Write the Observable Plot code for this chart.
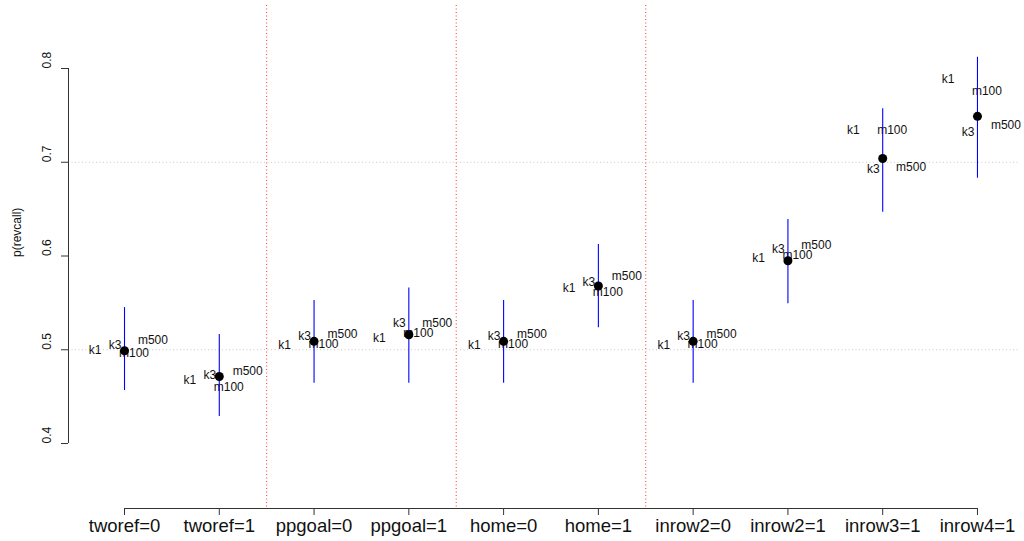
<!DOCTYPE html>
<html>
<head>
<meta charset="utf-8">
<script src="https://cdn.jsdelivr.net/npm/d3@7"></script>
<script src="https://cdn.jsdelivr.net/npm/@observablehq/plot@0.6"></script>
<style>
  html, body { margin: 0; padding: 0; background: white; }
</style>
</head>
<body>
<div id="chart"></div>
<script>
const categories = ["tworef=0","tworef=1","ppgoal=0","ppgoal=1","home=0","home=1","inrow2=0","inrow2=1","inrow3=1","inrow4=1"];
const estimate = [0.499, 0.4715, 0.509, 0.516, 0.509, 0.568, 0.509, 0.595, 0.704, 0.749];
const lower    = [0.4565, 0.4288, 0.4643, 0.4643, 0.4643, 0.5234, 0.4643, 0.549, 0.6467, 0.683];
const upper    = [0.545, 0.5163, 0.5525, 0.566, 0.5525, 0.6123, 0.5525, 0.639, 0.757, 0.812];
const k1   = [0.500, 0.468, 0.5053, 0.5124, 0.5053, 0.566, 0.5053, 0.5977, 0.7346, 0.7883];
const k3   = [0.5053, 0.4725, 0.514, 0.5283, 0.514, 0.572, 0.514, 0.6077, 0.6923, 0.732];
const m100 = [0.4963, 0.460, 0.5056, 0.5177, 0.5056, 0.5614, 0.5056, 0.6005, 0.7346, 0.7755];
const m500 = [0.5099, 0.477, 0.517, 0.5283, 0.517, 0.578, 0.517, 0.6112, 0.6947, 0.7392];
const modelNames = ["k1", "k3", "m100", "m500"];
const modelValues = [k1, k3, m100, m500];
const yTicks = [0.4, 0.5, 0.6, 0.7, 0.8];
const gridValues = [0.5, 0.7];
const dividers = [2.5, 4.5, 6.5];
const yLabel = "p(revcall)";

// layout
const labelOffset = {k1: -0.31, k3: -0.1, m100: 0.1, m500: 0.3};
const xDomain = [0.409, 10.454];
const yDomain = [0.3307, 0.8672];

const rows = categories.map((c, i) => ({i: i + 1, cat: c, est: estimate[i], lo: lower[i], hi: upper[i]}));
const labels = [];
categories.forEach((c, i) => {
  modelNames.forEach((m, j) => {
    labels.push({x: i + 1 + labelOffset[m], y: modelValues[j][i], text: m});
  });
});

const chart = Plot.plot({
  width: 1024,
  height: 541,
  marginLeft: 68,
  marginRight: 4,
  marginTop: 5,
  marginBottom: 33,
  x: {type: "linear", domain: xDomain, axis: null},
  y: {type: "linear", domain: yDomain, axis: null},
  style: {fontFamily: "'Liberation Sans', Arial, Helvetica, sans-serif", fontSize: "12px", background: "white", color: "black"},
  marks: [
    Plot.ruleY(gridValues, {stroke: "#c8c8c8", strokeDasharray: "1,2.5"}),
    Plot.ruleX(dividers, {stroke: "#ff3030", strokeDasharray: "1,2.5"}),
    Plot.text(labels, {x: "x", y: "y", text: "text", fontSize: 12, fill: "#111"}),
    Plot.ruleX(rows, {x: "i", y1: "lo", y2: "hi", stroke: "#0000ff", strokeWidth: 1.1}),
    Plot.dot(rows, {x: "i", y: "est", r: 4.5, fill: "black", stroke: "none"}),
    // y axis
    Plot.ruleX([xDomain[0]], {y1: yTicks[0], y2: yTicks[yTicks.length - 1], stroke: "#333"}),
    Plot.axisY({ticks: yTicks, tickSize: 7, tickFormat: () => "", stroke: "#333"}),
    Plot.text(yTicks, {y: d => d, text: d => d.toFixed(1), frameAnchor: "left", dx: -21, rotate: -90, fontSize: 12, fill: "#111"}),
    Plot.text([yLabel], {text: d => d, frameAnchor: "left", dx: -51, rotate: -90, fontSize: 12, fill: "#111"}),
    // x axis
    Plot.ruleY([yDomain[0]], {x1: 1, x2: categories.length, stroke: "#333"}),
    Plot.axisX({ticks: rows.map(d => d.i), tickSize: 7, tickPadding: 3, tickFormat: i => categories[i - 1], fontSize: 18.5, stroke: "#333", fill: "#111"})
  ]
});
document.getElementById("chart").appendChild(chart);
</script>
</body>
</html>
